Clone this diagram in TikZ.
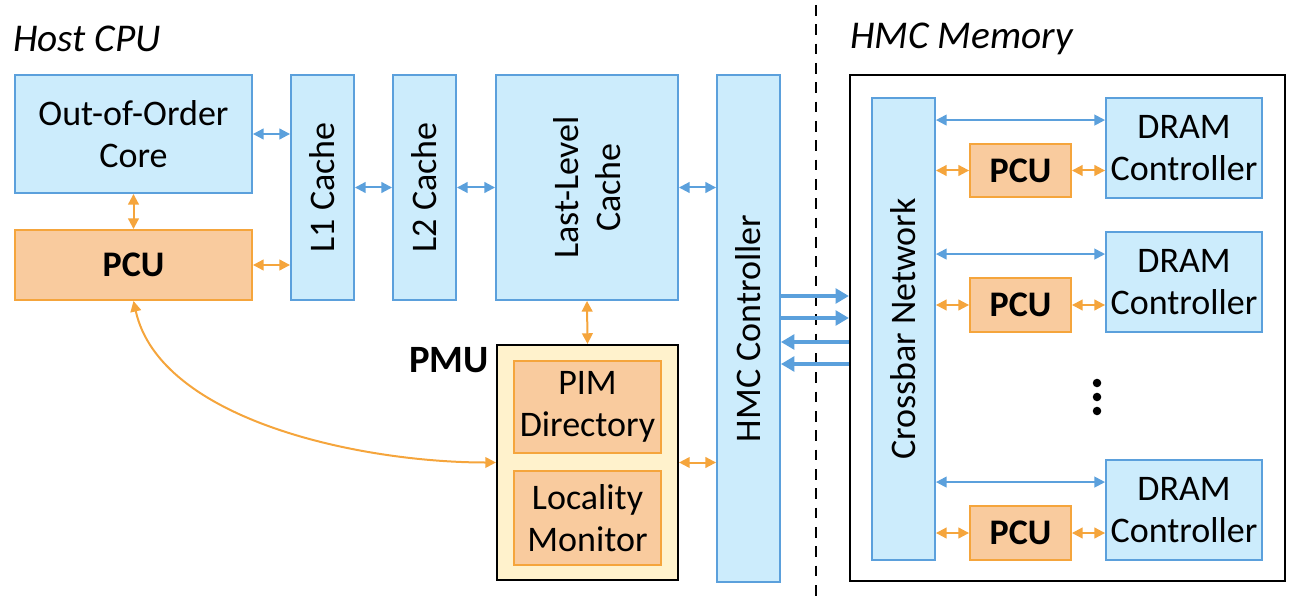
\documentclass[tikz,border=0pt]{standalone}
\usepackage{fontspec}
\setmainfont{Carlito}
\usetikzlibrary{arrows.meta,fit,calc}
\definecolor{bfill}{RGB}{204,236,252}
\definecolor{bline}{RGB}{91,160,220}
\definecolor{ofill}{RGB}{249,203,158}
\definecolor{oline}{RGB}{245,165,60}
\definecolor{yfill}{RGB}{255,242,204}
\tikzset{
  box/.style={draw, line width=1.4pt, inner sep=0pt},
  bluebox/.style={box, draw=bline, fill=bfill},
  orangebox/.style={box, draw=oline, fill=ofill},
  txt/.style={font=\fontsize{27}{31}\selectfont, align=center, inner sep=0pt},
  btxt/.style={font=\fontsize{27}{31}\selectfont\bfseries, align=center, inner sep=0pt},
  title/.style={font=\fontsize{29.5}{33}\selectfont\itshape, anchor=west, inner sep=0pt},
  barr/.style={draw=bline, line width=1.5pt, {Triangle[length=8pt,width=8pt]}-{Triangle[length=8pt,width=8pt]}},
  oarr/.style={draw=oline, line width=1.5pt, {Triangle[length=8pt,width=8pt]}-{Triangle[length=8pt,width=8pt]}},
  bigarr/.style={draw=bline, line width=2.8pt, -{Triangle[length=10pt,width=11pt]}},
}
\begin{document}
\begin{tikzpicture}[x=0.75pt,y=-0.75pt]
\useasboundingbox (0,0) rectangle (1298,602);

% titles
\node[title] (hostt) at (13,39) {Host CPU};
\node[title] (hmct) at (850,39) {HMC Memory};

% dashed separator
\coordinate (dtop) at (816,5);
\coordinate (dbot) at (816,597);
\draw[line width=1.6pt, dash pattern=on 8pt off 6.5pt] (dtop) -- (dbot);

% host CPU
\node[bluebox, fit={(15,75) (252,193)}] (ooo) {};
\node[txt] (ooot) at (ooo) {Out-of-Order\\Core};
\node[orangebox, fit={(15,230) (252,300)}] (pcu) {};
\node[btxt] (pcut) at (pcu) {PCU};
\node[bluebox, fit={(291,75) (354,300)}] (l1) {};
\node[txt, rotate=90] (l1t) at (l1) {L1 Cache};
\node[bluebox, fit={(393,75) (456,300)}] (l2) {};
\node[txt, rotate=90] (l2t) at (l2) {L2 Cache};
\node[bluebox, fit={(496,75) (678,300)}] (llc) {};
\node[txt, rotate=90] (llct) at (llc) {Last-Level\\Cache};
\node[bluebox, fit={(717,75) (780,582)}] (hmc) {};
\node[txt, rotate=90] (hmctx) at (hmc) {HMC Controller};

% PMU
\node[box, draw=black, fill=yfill, line width=1.6pt, fit={(497,345) (678,580)}] (pmu) {};
\node[font=\fontsize{29}{32}\selectfont\bfseries, anchor=east, inner sep=0pt] (pmut) at (489,360) {PMU};
\node[orangebox, fit={(514,361) (661,453)}] (pim) {};
\node[txt] (pimt) at (pim) {PIM\\Directory};
\node[orangebox, fit={(514,471) (661,565)}] (loc) {};
\node[txt] (loct) at (loc) {Locality\\Monitor};

% host arrows
\draw[barr] (ooo.east) -- (ooo.east -| l1.west);
\draw[oarr] (ooo.south) -- (pcu.north);
\draw[oarr] (pcu.east) -- (pcu.east -| l1.west);
\draw[barr] (l1.east) -- (l2.west);
\draw[barr] (l2.east) -- (llc.west);
\draw[barr] (llc.east) -- (llc.east -| hmc.west);
\draw[oarr] (llc.south) -- (pmu.north);
\draw[oarr] (pmu.east) -- (pmu.east -| hmc.west);
\draw[oarr] (pcu.south) .. controls (160,420) and (360,462.5) .. (pmu.west);

% HMC memory
\node[box, draw=black, fill=white, line width=1.6pt, fit={(850,75) (1285,581)}] (mem) {};
\node[bluebox, fit={(872,98) (935,560)}] (xbar) {};
\node[txt, rotate=90] (xbart) at (xbar) {Crossbar Network};

\node[bluebox, fit={(1106,98) (1262,198)}] (d1) {};
\node[bluebox, fit={(1106,232) (1262,332)}] (d2) {};
\node[bluebox, fit={(1106,460) (1262,560)}] (d3) {};
\node[orangebox, fit={(970,144) (1071,197)}] (p1) {};
\node[orangebox, fit={(970,278) (1071,332)}] (p2) {};
\node[orangebox, fit={(970,506) (1071,560)}] (p3) {};

\foreach \d/\p in {d1/p1, d2/p2, d3/p3} {
  \node[txt] (\d t) at (\d) {DRAM\\Controller};
  \node[btxt] (\p t) at (\p) {PCU};
  \coordinate (\d a) at ($(\d.north west)+(0,23)$);
  \draw[barr] (xbar.east |- \d a) -- (\d a);
  \draw[oarr] (xbar.east |- \p.west) -- (\p.west);
  \draw[oarr] (\p.east) -- (\p.east -| \d.west);
}

% dots
\fill (1097,383) circle (3.2pt);
\fill (1097,397) circle (3.2pt);
\fill (1097,411) circle (3.2pt);

% HMC links
\coordinate (h1) at (0,296);
\coordinate (h2) at (0,318);
\coordinate (h3) at (0,342);
\coordinate (h4) at (0,364);
\draw[bigarr] (hmc.east |- h1) -- (mem.west |- h1);
\draw[bigarr] (hmc.east |- h2) -- (mem.west |- h2);
\draw[bigarr] (mem.west |- h3) -- (hmc.east |- h3);
\draw[bigarr] (mem.west |- h4) -- (hmc.east |- h4);
\end{tikzpicture}
\end{document}
